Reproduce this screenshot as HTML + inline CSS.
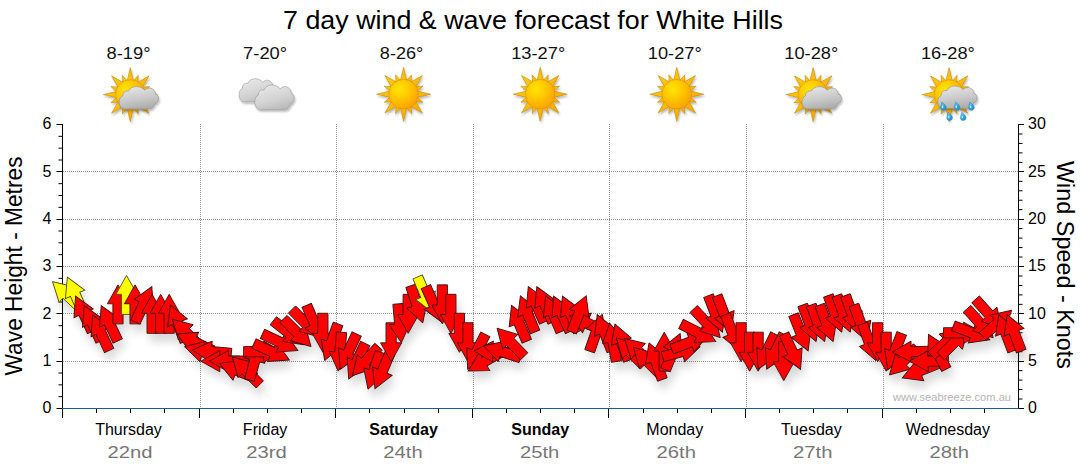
<!DOCTYPE html>
<html><head><meta charset="utf-8"><title>7 day wind &amp; wave forecast for White Hills</title>
<style>
html,body{margin:0;padding:0;background:#fff;}
body{width:1080px;height:475px;overflow:hidden;font-family:"Liberation Sans",sans-serif;}
svg{display:block;}
text{font-family:"Liberation Sans",sans-serif;}
</style></head><body>
<svg width="1080" height="475" viewBox="0 0 1080 475">
<defs>
<radialGradient id="gSun" cx="0.36" cy="0.32" r="0.75"><stop offset="0" stop-color="#ffe400"/><stop offset="0.45" stop-color="#ffc800"/><stop offset="1" stop-color="#fb9e00"/></radialGradient>
<linearGradient id="gRay" x1="0" y1="0" x2="1" y2="1"><stop offset="0" stop-color="#ffcf10"/><stop offset="1" stop-color="#f7a400"/></linearGradient>
<linearGradient id="gCloud" x1="0.3" y1="0" x2="0.6" y2="1"><stop offset="0" stop-color="#e6e6e6"/><stop offset="0.55" stop-color="#c9c9c9"/><stop offset="1" stop-color="#ababab"/></linearGradient>
<linearGradient id="gCloudL" x1="0.2" y1="0" x2="0.7" y2="1"><stop offset="0" stop-color="#e9e9e9"/><stop offset="0.6" stop-color="#d2d2d2"/><stop offset="1" stop-color="#b9b9b9"/></linearGradient>
<linearGradient id="gDrop" x1="0" y1="0" x2="1" y2="1"><stop offset="0" stop-color="#8fd6f7"/><stop offset="0.5" stop-color="#35a9e4"/><stop offset="1" stop-color="#1786c8"/></linearGradient>
<filter id="fSoft" x="-20%" y="-20%" width="140%" height="140%"><feGaussianBlur stdDeviation="0.35"/></filter>
<filter id="fIconSh" x="-30%" y="-30%" width="160%" height="180%"><feGaussianBlur in="SourceAlpha" stdDeviation="1.1" result="b"/><feOffset in="b" dx="0.6" dy="1.6" result="o"/><feComponentTransfer in="o" result="s"><feFuncA type="linear" slope="0.28"/></feComponentTransfer><feMerge><feMergeNode in="s"/><feMergeNode in="SourceGraphic"/></feMerge></filter>
<filter id="fArrSh" filterUnits="userSpaceOnUse" x="0" y="200" width="1080" height="260"><feGaussianBlur in="SourceAlpha" stdDeviation="4.5" result="b"/><feOffset in="b" dx="3" dy="8" result="o"/><feComponentTransfer in="o" result="s"><feFuncA type="linear" slope="0.15"/></feComponentTransfer><feMerge><feMergeNode in="s"/><feMergeNode in="SourceGraphic"/></feMerge></filter>
<g id="sunshape"><g><path d="M3.30 -13.20L0.00 -27.00L-3.30 -13.20ZM7.45 -11.20L8.04 -19.40L2.65 -13.19ZM11.95 -6.72L18.74 -18.74L6.72 -11.95ZM13.19 -2.65L19.40 -8.04L11.20 -7.45ZM13.20 3.30L27.00 0.00L13.20 -3.30ZM11.20 7.45L19.40 8.04L13.19 2.65ZM6.72 11.95L18.74 18.74L11.95 6.72ZM2.65 13.19L8.04 19.40L7.45 11.20ZM-3.30 13.20L0.00 27.00L3.30 13.20ZM-7.45 11.20L-8.04 19.40L-2.65 13.19ZM-11.95 6.72L-18.74 18.74L-6.72 11.95ZM-13.19 2.65L-19.40 8.04L-11.20 7.45ZM-13.20 -3.30L-27.00 0.00L-13.20 3.30ZM-11.20 -7.45L-19.40 -8.04L-13.19 -2.65ZM-6.72 -11.95L-18.74 -18.74L-11.95 -6.72ZM-2.65 -13.19L-8.04 -19.40L-7.45 -11.20Z" fill="url(#gRay)" stroke="#b98200" stroke-width="0.55" stroke-linejoin="round"/><circle r="14.8" fill="url(#gSun)" stroke="#e09000" stroke-width="0.6"/></g></g>
<path id="cloudshape" d="M6 22.4 C2 22.4 0 19 0 15.5 C0 12.2 1.6 10 3.6 9.2 C3.4 6 6 3.8 9.2 4.6 C10.6 1.6 13.6 0 17 0 C20.6 0 23.6 1.4 25.4 3.6 C27 1.8 29.4 1 31.6 1.6 C34.4 2.4 36.2 4.6 36.4 7.4 C38.6 8.2 39.6 10.2 39.4 12.6 C39.2 15 37.6 16.8 35.4 17.2 C35 20.2 33 22.4 30 22.4 Z"/>
<g id="ic-sun"><g filter="url(#fIconSh)"><use href="#sunshape" x="-0.6" y="0.2"/></g></g>
<g id="ic-partly"><g filter="url(#fIconSh)"><use href="#sunshape" x="-0.8" y="0.6"/></g><g filter="url(#fIconSh)"><use href="#cloudshape" x="-11.9" y="-7.4" fill="url(#gCloud)" stroke="#8e8e8e" stroke-width="0.6"/></g></g>
<g id="ic-cloudy"><g filter="url(#fIconSh)"><use href="#cloudshape" transform="translate(-28.6 -15.3) scale(0.93 1.03)" fill="url(#gCloudL)" stroke="#9a9a9a" stroke-width="0.6"/></g><g filter="url(#fIconSh)"><use href="#cloudshape" transform="translate(-12.9 -9) scale(1.0 1.09)" fill="url(#gCloudL)" stroke="#9a9a9a" stroke-width="0.6"/></g></g>
<g id="ic-rain"><g filter="url(#fIconSh)"><use href="#sunshape" x="-1.4" y="0.6"/></g><g filter="url(#fIconSh)"><use href="#cloudshape" x="-12.8" y="-7.9" fill="url(#gCloud)" stroke="#8e8e8e" stroke-width="0.6"/></g><g transform="translate(-7.0 12.0) scale(1.25)"><path d="M-1.3 -3.2 C0.2 -1.8 2.2 -0.6 2.2 1.2 C2.2 2.6 1.1 3.4 -0.2 3.4 C-1.6 3.4 -2.4 2.4 -2.3 1 C-2.2 -0.4 -1.5 -1.6 -1.3 -3.2 Z" fill="url(#gDrop)" stroke="#1b7fc0" stroke-width="0.4"/><ellipse cx="-0.7" cy="0.6" rx="0.6" ry="1.0" fill="#d8f2ff" opacity="0.85"/></g><g transform="translate(6.7 12.0) scale(1.25)"><path d="M-1.3 -3.2 C0.2 -1.8 2.2 -0.6 2.2 1.2 C2.2 2.6 1.1 3.4 -0.2 3.4 C-1.6 3.4 -2.4 2.4 -2.3 1 C-2.2 -0.4 -1.5 -1.6 -1.3 -3.2 Z" fill="url(#gDrop)" stroke="#1b7fc0" stroke-width="0.4"/><ellipse cx="-0.7" cy="0.6" rx="0.6" ry="1.0" fill="#d8f2ff" opacity="0.85"/></g><g transform="translate(21.0 12.0) scale(1.25)"><path d="M-1.3 -3.2 C0.2 -1.8 2.2 -0.6 2.2 1.2 C2.2 2.6 1.1 3.4 -0.2 3.4 C-1.6 3.4 -2.4 2.4 -2.3 1 C-2.2 -0.4 -1.5 -1.6 -1.3 -3.2 Z" fill="url(#gDrop)" stroke="#1b7fc0" stroke-width="0.4"/><ellipse cx="-0.7" cy="0.6" rx="0.6" ry="1.0" fill="#d8f2ff" opacity="0.85"/></g><g transform="translate(-0.8 22.2) scale(1.25)"><path d="M-1.3 -3.2 C0.2 -1.8 2.2 -0.6 2.2 1.2 C2.2 2.6 1.1 3.4 -0.2 3.4 C-1.6 3.4 -2.4 2.4 -2.3 1 C-2.2 -0.4 -1.5 -1.6 -1.3 -3.2 Z" fill="url(#gDrop)" stroke="#1b7fc0" stroke-width="0.4"/><ellipse cx="-0.7" cy="0.6" rx="0.6" ry="1.0" fill="#d8f2ff" opacity="0.85"/></g><g transform="translate(12.8 22.2) scale(1.25)"><path d="M-1.3 -3.2 C0.2 -1.8 2.2 -0.6 2.2 1.2 C2.2 2.6 1.1 3.4 -0.2 3.4 C-1.6 3.4 -2.4 2.4 -2.3 1 C-2.2 -0.4 -1.5 -1.6 -1.3 -3.2 Z" fill="url(#gDrop)" stroke="#1b7fc0" stroke-width="0.4"/><ellipse cx="-0.7" cy="0.6" rx="0.6" ry="1.0" fill="#d8f2ff" opacity="0.85"/></g></g>
<path id="arr" d="M0 -19.5 L10.6 -0.6 L5.1 -0.6 L5.1 19.5 L-5.1 19.5 L-5.1 -0.6 L-10.6 -0.6 Z"/>
</defs>
<rect width="1080" height="475" fill="#fff"/>
<text x="533" y="29.3" font-size="25.3" text-anchor="middle" fill="#000" textLength="500" lengthAdjust="spacingAndGlyphs">7 day wind &amp; wave forecast for White Hills</text>
<text x="128.5" y="58.5" font-size="16.3" text-anchor="middle" fill="#111" textLength="44" lengthAdjust="spacingAndGlyphs">8-19°</text>
<text x="265.1" y="58.5" font-size="16.3" text-anchor="middle" fill="#111" textLength="44" lengthAdjust="spacingAndGlyphs">7-20°</text>
<text x="401.6" y="58.5" font-size="16.3" text-anchor="middle" fill="#111" textLength="43.5" lengthAdjust="spacingAndGlyphs">8-26°</text>
<text x="538.2" y="58.5" font-size="16.3" text-anchor="middle" fill="#111" textLength="54" lengthAdjust="spacingAndGlyphs">13-27°</text>
<text x="674.8" y="58.5" font-size="16.3" text-anchor="middle" fill="#111" textLength="54" lengthAdjust="spacingAndGlyphs">10-27°</text>
<text x="811.3" y="58.5" font-size="16.3" text-anchor="middle" fill="#111" textLength="54" lengthAdjust="spacingAndGlyphs">10-28°</text>
<text x="947.9" y="58.5" font-size="16.3" text-anchor="middle" fill="#111" textLength="54" lengthAdjust="spacingAndGlyphs">16-28°</text>
<path d="M63 171.5H1018M63 219.5H1018M63 266.5H1018M63 313.5H1018M63 361.5H1018" stroke="#929292" stroke-width="1" stroke-dasharray="1 1" fill="none" shape-rendering="crispEdges"/>
<path d="M200.5 124V408M336.5 124V408M473.5 124V408M609.5 124V408M746.5 124V408M883.5 124V408" stroke="#929292" stroke-width="1" stroke-dasharray="1 1" fill="none" shape-rendering="crispEdges"/>
<text x="893" y="400.5" font-size="11" fill="#b4b4b4" textLength="118" lengthAdjust="spacingAndGlyphs">www.seabreeze.com.au</text>
<path d="M62.5 124.0V409.0M1018.5 124.0V409.0M56.5 408.5H62.5M58.5 396.67H62.5M58.5 384.83H62.5M58.5 373.00H62.5M56.5 361.5H62.5M58.5 349.33H62.5M58.5 337.50H62.5M58.5 325.67H62.5M56.5 313.5H62.5M58.5 302.00H62.5M58.5 290.17H62.5M58.5 278.33H62.5M56.5 266.5H62.5M58.5 254.67H62.5M58.5 242.83H62.5M58.5 231.00H62.5M56.5 219.5H62.5M58.5 207.33H62.5M58.5 195.50H62.5M58.5 183.67H62.5M56.5 171.5H62.5M58.5 160.00H62.5M58.5 148.17H62.5M58.5 136.33H62.5M56.5 124.5H62.5M1018.5 408.5H1024.0M1018.5 399.03H1022.5M1018.5 389.57H1022.5M1018.5 380.10H1022.5M1018.5 370.63H1022.5M1018.5 361.5H1024.0M1018.5 351.70H1022.5M1018.5 342.23H1022.5M1018.5 332.77H1022.5M1018.5 323.30H1022.5M1018.5 313.5H1024.0M1018.5 304.37H1022.5M1018.5 294.90H1022.5M1018.5 285.43H1022.5M1018.5 275.97H1022.5M1018.5 266.5H1024.0M1018.5 257.03H1022.5M1018.5 247.57H1022.5M1018.5 238.10H1022.5M1018.5 228.63H1022.5M1018.5 219.5H1024.0M1018.5 209.70H1022.5M1018.5 200.23H1022.5M1018.5 190.77H1022.5M1018.5 181.30H1022.5M1018.5 171.5H1024.0M1018.5 162.37H1022.5M1018.5 152.90H1022.5M1018.5 143.43H1022.5M1018.5 133.97H1022.5M1018.5 124.5H1024.0" stroke="#000" stroke-width="1" fill="none"/>
<path d="M62.0 408.5H1019.0" stroke="#1d5a8c" stroke-width="1" fill="none"/>
<path d="M62.5 409.0V418.0M96.5 409.0V413.0M130.5 409.0V413.0M164.5 409.0V413.0M199.5 409.0V418.0M233.5 409.0V413.0M267.5 409.0V413.0M301.5 409.0V413.0M335.5 409.0V418.0M369.5 409.0V413.0M404.5 409.0V413.0M438.5 409.0V413.0M472.5 409.0V418.0M506.5 409.0V413.0M540.5 409.0V413.0M574.5 409.0V413.0M608.5 409.0V418.0M643.5 409.0V413.0M677.5 409.0V413.0M711.5 409.0V413.0M745.5 409.0V418.0M779.5 409.0V413.0M813.5 409.0V413.0M847.5 409.0V413.0M882.5 409.0V418.0M916.5 409.0V413.0M950.5 409.0V413.0M984.5 409.0V413.0" stroke="#000" stroke-width="1" fill="none"/>
<g filter="url(#fArrSh)" stroke-width="0.9" stroke-linejoin="miter">
<use href="#arr" transform="translate(66.77 294.90) rotate(-47)" fill="#ffff00" stroke="#4a4a20"/>
<use href="#arr" transform="translate(75.30 294.90) rotate(-24)" fill="#ffff00" stroke="#4a4a20"/>
<use href="#arr" transform="translate(83.84 313.83) rotate(-25)" fill="#ff0000" stroke="#3c1010"/>
<use href="#arr" transform="translate(92.38 323.30) rotate(-25)" fill="#ff0000" stroke="#3c1010"/>
<use href="#arr" transform="translate(100.91 332.77) rotate(-25)" fill="#ff0000" stroke="#3c1010"/>
<use href="#arr" transform="translate(109.45 323.30) rotate(-25)" fill="#ff0000" stroke="#3c1010"/>
<use href="#arr" transform="translate(117.98 304.37) rotate(0)" fill="#ff0000" stroke="#3c1010"/>
<use href="#arr" transform="translate(126.52 294.90) rotate(0)" fill="#ffff00" stroke="#4a4a20"/>
<use href="#arr" transform="translate(135.05 304.37) rotate(0)" fill="#ff0000" stroke="#3c1010"/>
<use href="#arr" transform="translate(143.59 304.37) rotate(25)" fill="#ff0000" stroke="#3c1010"/>
<use href="#arr" transform="translate(152.12 313.83) rotate(0)" fill="#ff0000" stroke="#3c1010"/>
<use href="#arr" transform="translate(160.66 313.83) rotate(0)" fill="#ff0000" stroke="#3c1010"/>
<use href="#arr" transform="translate(169.20 313.83) rotate(0)" fill="#ff0000" stroke="#3c1010"/>
<use href="#arr" transform="translate(177.73 323.30) rotate(-22)" fill="#ff0000" stroke="#3c1010"/>
<use href="#arr" transform="translate(186.27 332.77) rotate(-46)" fill="#ff0000" stroke="#3c1010"/>
<use href="#arr" transform="translate(194.80 342.23) rotate(-65)" fill="#ff0000" stroke="#3c1010"/>
<use href="#arr" transform="translate(203.34 351.70) rotate(-75)" fill="#ff0000" stroke="#3c1010"/>
<use href="#arr" transform="translate(211.88 351.70) rotate(-85)" fill="#ff0000" stroke="#3c1010"/>
<use href="#arr" transform="translate(220.41 361.17) rotate(-90)" fill="#ff0000" stroke="#3c1010"/>
<use href="#arr" transform="translate(228.95 361.17) rotate(-90)" fill="#ff0000" stroke="#3c1010"/>
<use href="#arr" transform="translate(237.48 370.63) rotate(-68)" fill="#ff0000" stroke="#3c1010"/>
<use href="#arr" transform="translate(246.02 370.63) rotate(-45)" fill="#ff0000" stroke="#3c1010"/>
<use href="#arr" transform="translate(254.55 361.17) rotate(15)" fill="#ff0000" stroke="#3c1010"/>
<use href="#arr" transform="translate(263.09 351.70) rotate(90)" fill="#ff0000" stroke="#3c1010"/>
<use href="#arr" transform="translate(271.62 351.70) rotate(115)" fill="#ff0000" stroke="#3c1010"/>
<use href="#arr" transform="translate(280.16 342.23) rotate(115)" fill="#ff0000" stroke="#3c1010"/>
<use href="#arr" transform="translate(288.70 332.77) rotate(128)" fill="#ff0000" stroke="#3c1010"/>
<use href="#arr" transform="translate(297.23 332.77) rotate(135)" fill="#ff0000" stroke="#3c1010"/>
<use href="#arr" transform="translate(305.77 323.30) rotate(135)" fill="#ff0000" stroke="#3c1010"/>
<use href="#arr" transform="translate(314.30 323.30) rotate(157)" fill="#ff0000" stroke="#3c1010"/>
<use href="#arr" transform="translate(322.84 332.77) rotate(180)" fill="#ff0000" stroke="#3c1010"/>
<use href="#arr" transform="translate(331.38 342.23) rotate(200)" fill="#ff0000" stroke="#3c1010"/>
<use href="#arr" transform="translate(339.91 351.70) rotate(185)" fill="#ff0000" stroke="#3c1010"/>
<use href="#arr" transform="translate(348.45 351.70) rotate(205)" fill="#ff0000" stroke="#3c1010"/>
<use href="#arr" transform="translate(356.98 361.17) rotate(205)" fill="#ff0000" stroke="#3c1010"/>
<use href="#arr" transform="translate(365.52 361.17) rotate(222)" fill="#ff0000" stroke="#3c1010"/>
<use href="#arr" transform="translate(374.05 370.63) rotate(198)" fill="#ff0000" stroke="#3c1010"/>
<use href="#arr" transform="translate(382.59 370.63) rotate(203)" fill="#ff0000" stroke="#3c1010"/>
<use href="#arr" transform="translate(391.13 342.23) rotate(180)" fill="#ff0000" stroke="#3c1010"/>
<use href="#arr" transform="translate(399.66 323.30) rotate(175)" fill="#ff0000" stroke="#3c1010"/>
<use href="#arr" transform="translate(408.20 313.83) rotate(180)" fill="#ff0000" stroke="#3c1010"/>
<use href="#arr" transform="translate(416.73 304.37) rotate(162)" fill="#ff0000" stroke="#3c1010"/>
<use href="#arr" transform="translate(425.27 294.90) rotate(157)" fill="#ffff00" stroke="#4a4a20"/>
<use href="#arr" transform="translate(433.80 304.37) rotate(156)" fill="#ff0000" stroke="#3c1010"/>
<use href="#arr" transform="translate(442.34 304.37) rotate(180)" fill="#ff0000" stroke="#3c1010"/>
<use href="#arr" transform="translate(450.88 313.83) rotate(180)" fill="#ff0000" stroke="#3c1010"/>
<use href="#arr" transform="translate(459.41 332.77) rotate(180)" fill="#ff0000" stroke="#3c1010"/>
<use href="#arr" transform="translate(467.95 342.23) rotate(180)" fill="#ff0000" stroke="#3c1010"/>
<use href="#arr" transform="translate(476.48 351.70) rotate(207)" fill="#ff0000" stroke="#3c1010"/>
<use href="#arr" transform="translate(485.02 361.17) rotate(240)" fill="#ff0000" stroke="#3c1010"/>
<use href="#arr" transform="translate(493.55 351.70) rotate(-88)" fill="#ff0000" stroke="#3c1010"/>
<use href="#arr" transform="translate(502.09 351.70) rotate(-72)" fill="#ff0000" stroke="#3c1010"/>
<use href="#arr" transform="translate(510.63 342.23) rotate(-44)" fill="#ff0000" stroke="#3c1010"/>
<use href="#arr" transform="translate(519.16 323.30) rotate(-23)" fill="#ff0000" stroke="#3c1010"/>
<use href="#arr" transform="translate(527.70 313.83) rotate(-22)" fill="#ff0000" stroke="#3c1010"/>
<use href="#arr" transform="translate(536.23 304.37) rotate(-24)" fill="#ff0000" stroke="#3c1010"/>
<use href="#arr" transform="translate(544.77 304.37) rotate(-24)" fill="#ff0000" stroke="#3c1010"/>
<use href="#arr" transform="translate(553.30 313.83) rotate(-23)" fill="#ff0000" stroke="#3c1010"/>
<use href="#arr" transform="translate(561.84 313.83) rotate(-25)" fill="#ff0000" stroke="#3c1010"/>
<use href="#arr" transform="translate(570.38 313.83) rotate(-24)" fill="#ff0000" stroke="#3c1010"/>
<use href="#arr" transform="translate(587.45 323.30) rotate(-66)" fill="#ff0000" stroke="#3c1010"/>
<use href="#arr" transform="translate(578.91 313.83) rotate(22)" fill="#ff0000" stroke="#3c1010"/>
<use href="#arr" transform="translate(595.98 332.77) rotate(19)" fill="#ff0000" stroke="#3c1010"/>
<use href="#arr" transform="translate(604.52 332.77) rotate(-22)" fill="#ff0000" stroke="#3c1010"/>
<use href="#arr" transform="translate(613.05 342.23) rotate(-10)" fill="#ff0000" stroke="#3c1010"/>
<use href="#arr" transform="translate(621.59 342.23) rotate(-20)" fill="#ff0000" stroke="#3c1010"/>
<use href="#arr" transform="translate(630.12 351.70) rotate(-45)" fill="#ff0000" stroke="#3c1010"/>
<use href="#arr" transform="translate(638.66 351.70) rotate(-47)" fill="#ff0000" stroke="#3c1010"/>
<use href="#arr" transform="translate(647.20 361.17) rotate(-45)" fill="#ff0000" stroke="#3c1010"/>
<use href="#arr" transform="translate(655.73 361.17) rotate(-20)" fill="#ff0000" stroke="#3c1010"/>
<use href="#arr" transform="translate(664.27 351.70) rotate(0)" fill="#ff0000" stroke="#3c1010"/>
<use href="#arr" transform="translate(672.80 351.70) rotate(22)" fill="#ff0000" stroke="#3c1010"/>
<use href="#arr" transform="translate(681.34 351.70) rotate(75)" fill="#ff0000" stroke="#3c1010"/>
<use href="#arr" transform="translate(689.88 342.23) rotate(69)" fill="#ff0000" stroke="#3c1010"/>
<use href="#arr" transform="translate(698.41 332.77) rotate(117)" fill="#ff0000" stroke="#3c1010"/>
<use href="#arr" transform="translate(706.95 323.30) rotate(137)" fill="#ff0000" stroke="#3c1010"/>
<use href="#arr" transform="translate(715.48 313.83) rotate(159)" fill="#ff0000" stroke="#3c1010"/>
<use href="#arr" transform="translate(724.02 313.83) rotate(159)" fill="#ff0000" stroke="#3c1010"/>
<use href="#arr" transform="translate(732.55 332.77) rotate(158)" fill="#ff0000" stroke="#3c1010"/>
<use href="#arr" transform="translate(741.09 342.23) rotate(180)" fill="#ff0000" stroke="#3c1010"/>
<use href="#arr" transform="translate(749.63 351.70) rotate(180)" fill="#ff0000" stroke="#3c1010"/>
<use href="#arr" transform="translate(758.16 351.70) rotate(180)" fill="#ff0000" stroke="#3c1010"/>
<use href="#arr" transform="translate(766.70 351.70) rotate(206)" fill="#ff0000" stroke="#3c1010"/>
<use href="#arr" transform="translate(775.23 351.70) rotate(206)" fill="#ff0000" stroke="#3c1010"/>
<use href="#arr" transform="translate(783.77 361.17) rotate(180)" fill="#ff0000" stroke="#3c1010"/>
<use href="#arr" transform="translate(792.30 351.70) rotate(155)" fill="#ff0000" stroke="#3c1010"/>
<use href="#arr" transform="translate(800.84 332.77) rotate(158)" fill="#ff0000" stroke="#3c1010"/>
<use href="#arr" transform="translate(809.38 323.30) rotate(160)" fill="#ff0000" stroke="#3c1010"/>
<use href="#arr" transform="translate(817.91 323.30) rotate(160)" fill="#ff0000" stroke="#3c1010"/>
<use href="#arr" transform="translate(826.45 323.30) rotate(160)" fill="#ff0000" stroke="#3c1010"/>
<use href="#arr" transform="translate(834.98 313.83) rotate(160)" fill="#ff0000" stroke="#3c1010"/>
<use href="#arr" transform="translate(843.52 313.83) rotate(160)" fill="#ff0000" stroke="#3c1010"/>
<use href="#arr" transform="translate(852.05 313.83) rotate(160)" fill="#ff0000" stroke="#3c1010"/>
<use href="#arr" transform="translate(860.59 323.30) rotate(160)" fill="#ff0000" stroke="#3c1010"/>
<use href="#arr" transform="translate(869.13 342.23) rotate(160)" fill="#ff0000" stroke="#3c1010"/>
<use href="#arr" transform="translate(877.66 342.23) rotate(180)" fill="#ff0000" stroke="#3c1010"/>
<use href="#arr" transform="translate(886.20 351.70) rotate(180)" fill="#ff0000" stroke="#3c1010"/>
<use href="#arr" transform="translate(894.73 351.70) rotate(201)" fill="#ff0000" stroke="#3c1010"/>
<use href="#arr" transform="translate(903.27 361.17) rotate(225)" fill="#ff0000" stroke="#3c1010"/>
<use href="#arr" transform="translate(911.80 351.70) rotate(269)" fill="#ff0000" stroke="#3c1010"/>
<use href="#arr" transform="translate(920.34 370.63) rotate(248)" fill="#ff0000" stroke="#3c1010"/>
<use href="#arr" transform="translate(928.88 361.17) rotate(270)" fill="#ff0000" stroke="#3c1010"/>
<use href="#arr" transform="translate(937.41 351.70) rotate(-27)" fill="#ff0000" stroke="#3c1010"/>
<use href="#arr" transform="translate(945.95 342.23) rotate(47)" fill="#ff0000" stroke="#3c1010"/>
<use href="#arr" transform="translate(954.48 342.23) rotate(45)" fill="#ff0000" stroke="#3c1010"/>
<use href="#arr" transform="translate(963.02 332.77) rotate(90)" fill="#ff0000" stroke="#3c1010"/>
<use href="#arr" transform="translate(971.55 332.77) rotate(111)" fill="#ff0000" stroke="#3c1010"/>
<use href="#arr" transform="translate(980.09 323.30) rotate(138)" fill="#ff0000" stroke="#3c1010"/>
<use href="#arr" transform="translate(988.63 313.83) rotate(138)" fill="#ff0000" stroke="#3c1010"/>
<use href="#arr" transform="translate(997.16 323.30) rotate(48)" fill="#ff0000" stroke="#3c1010"/>
<use href="#arr" transform="translate(1005.70 332.77) rotate(-21)" fill="#ff0000" stroke="#3c1010"/>
<use href="#arr" transform="translate(1014.23 332.77) rotate(-21)" fill="#ff0000" stroke="#3c1010"/>
</g>
<text x="51.3" y="413.4" font-size="16" text-anchor="end" fill="#000">0</text>
<text x="51.3" y="366.1" font-size="16" text-anchor="end" fill="#000">1</text>
<text x="51.3" y="318.7" font-size="16" text-anchor="end" fill="#000">2</text>
<text x="51.3" y="271.4" font-size="16" text-anchor="end" fill="#000">3</text>
<text x="51.3" y="224.1" font-size="16" text-anchor="end" fill="#000">4</text>
<text x="51.3" y="176.7" font-size="16" text-anchor="end" fill="#000">5</text>
<text x="51.3" y="129.4" font-size="16" text-anchor="end" fill="#000">6</text>
<text x="1028" y="413.4" font-size="16" fill="#000">0</text>
<text x="1028" y="366.1" font-size="16" fill="#000">5</text>
<text x="1028" y="318.7" font-size="16" fill="#000">10</text>
<text x="1028" y="271.4" font-size="16" fill="#000">15</text>
<text x="1028" y="224.1" font-size="16" fill="#000">20</text>
<text x="1028" y="176.7" font-size="16" fill="#000">25</text>
<text x="1028" y="129.4" font-size="16" fill="#000">30</text>
<text transform="translate(22 266) rotate(-90)" font-size="23" text-anchor="middle" fill="#000" textLength="219" lengthAdjust="spacingAndGlyphs">Wave Height - Metres</text>
<text transform="translate(1057 265) rotate(90)" font-size="23" text-anchor="middle" fill="#000" textLength="208" lengthAdjust="spacingAndGlyphs">Wind Speed - Knots</text>
<text x="128.5" y="434.6" font-size="16" text-anchor="middle" fill="#000">Thursday</text>
<text transform="translate(129.9 458.4) scale(1.17 1)" font-size="17.3" text-anchor="middle" fill="#777">22nd</text>
<text x="265.1" y="434.6" font-size="16" text-anchor="middle" fill="#000">Friday</text>
<text transform="translate(266.5 458.4) scale(1.17 1)" font-size="17.3" text-anchor="middle" fill="#777">23rd</text>
<text x="403.6" y="434.6" font-size="16" text-anchor="middle" fill="#000" font-weight="bold">Saturday</text>
<text transform="translate(403.0 458.4) scale(1.17 1)" font-size="17.3" text-anchor="middle" fill="#777">24th</text>
<text x="540.2" y="434.6" font-size="16" text-anchor="middle" fill="#000" font-weight="bold">Sunday</text>
<text transform="translate(539.6 458.4) scale(1.17 1)" font-size="17.3" text-anchor="middle" fill="#777">25th</text>
<text x="674.8" y="434.6" font-size="16" text-anchor="middle" fill="#000">Monday</text>
<text transform="translate(676.2 458.4) scale(1.17 1)" font-size="17.3" text-anchor="middle" fill="#777">26th</text>
<text x="811.3" y="434.6" font-size="16" text-anchor="middle" fill="#000">Tuesday</text>
<text transform="translate(812.7 458.4) scale(1.17 1)" font-size="17.3" text-anchor="middle" fill="#777">27th</text>
<text x="947.9" y="434.6" font-size="16" text-anchor="middle" fill="#000">Wednesday</text>
<text transform="translate(949.3 458.4) scale(1.17 1)" font-size="17.3" text-anchor="middle" fill="#777">28th</text>
<use href="#ic-partly" x="131.1" y="94"/>
<use href="#ic-cloudy" x="267.7" y="94"/>
<use href="#ic-sun" x="404.2" y="94"/>
<use href="#ic-sun" x="540.8" y="94"/>
<use href="#ic-sun" x="677.4" y="94"/>
<use href="#ic-partly" x="813.9" y="94"/>
<use href="#ic-rain" x="950.5" y="94"/>
</svg></body></html>
